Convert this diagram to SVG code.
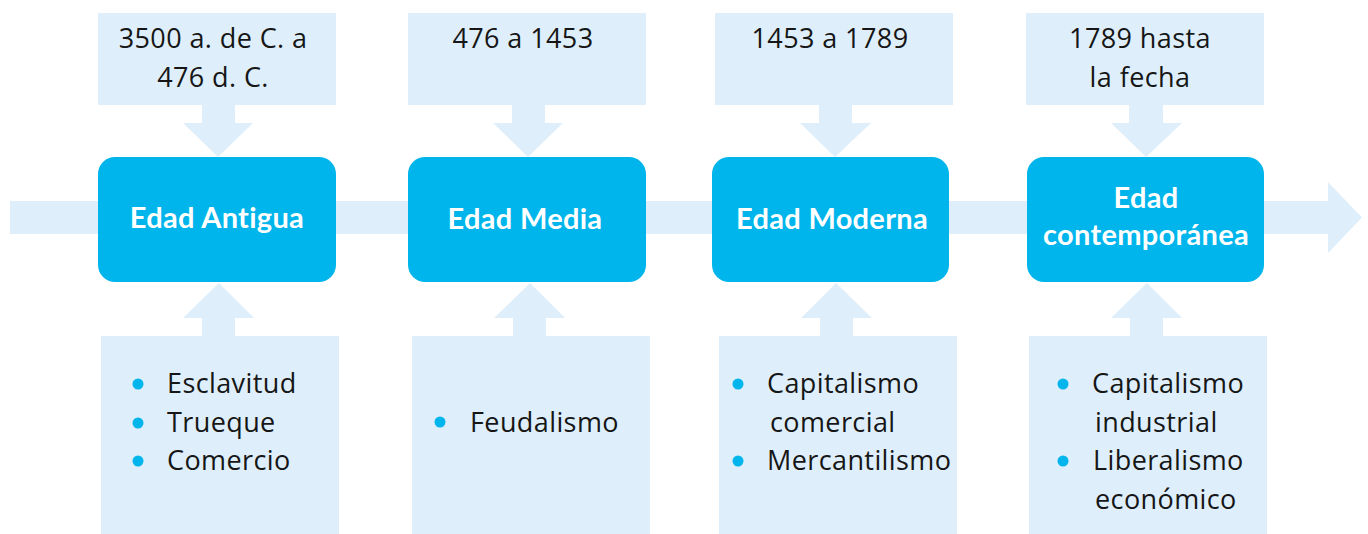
<svg xmlns="http://www.w3.org/2000/svg" width="1368" height="534" viewBox="0 0 1368 534">
<style>
.lb{fill:#DEEFFB}
.nd{fill:#00B5EC}
.dot{fill:#00B5EC}
.t{font-family:"Open Sans","Noto Sans",sans-serif;font-size:27px;letter-spacing:0.4px;fill:#161616}
.tm{text-anchor:middle}
.h{font-family:Lato,"Open Sans",sans-serif;font-weight:bold;font-size:29px;letter-spacing:0.3px;fill:#ffffff;text-anchor:middle}
</style>
<rect width="1368" height="534" fill="#ffffff"/>
<g id="connectors">
<polygon class="lb" points="10,201 1328,201 1328,182 1362,217.5 1328,253 1328,234 10,234"/>
<polygon class="lb" points="202,105 235,105 235,123 253,123 218,157 183,123 202,123"/>
<polygon class="lb" points="512,105 545,105 545,123 563,123 528,157 493,123 512,123"/>
<polygon class="lb" points="819,105 852,105 852,123 871,123 835,157 800,123 819,123"/>
<polygon class="lb" points="1129,105 1163,105 1163,123 1182,123 1146,157 1111,123 1129,123"/>
<polygon class="lb" points="202,336 235,336 235,318 254,318 219,283 183,318 202,318"/>
<polygon class="lb" points="513,336 546,336 546,318 565,318 530,283 494,318 513,318"/>
<polygon class="lb" points="820,336 853,336 853,318 872,318 836,283 801,318 820,318"/>
<polygon class="lb" points="1130,336 1163,336 1163,318 1182,318 1147,283 1111,318 1130,318"/>
</g>
<g id="date-antigua">
<rect class="lb" x="98" y="13" width="238" height="92"/>
<text class="t tm" x="213" y="48">3500 a. de C. a</text>
<text class="t tm" x="213" y="87">476 d. C.</text>
</g>
<g id="date-media">
<rect class="lb" x="408" y="13" width="238" height="92"/>
<text class="t tm" x="523" y="48">476 a 1453</text>
</g>
<g id="date-moderna">
<rect class="lb" x="715" y="13" width="238" height="92"/>
<text class="t tm" x="830" y="48">1453 a 1789</text>
</g>
<g id="date-contemporanea">
<rect class="lb" x="1026" y="13" width="238" height="92"/>
<text class="t tm" x="1140" y="48">1789 hasta</text>
<text class="t tm" x="1140" y="87">la fecha</text>
</g>
<g id="node-antigua">
<rect class="nd" x="98" y="157" width="238" height="125" rx="17"/>
<text class="h" x="217" y="228">Edad Antigua</text>
</g>
<g id="node-media">
<rect class="nd" x="408" y="157" width="238" height="125" rx="17"/>
<text class="h" x="525" y="229">Edad Media</text>
</g>
<g id="node-moderna">
<rect class="nd" x="712" y="157" width="237" height="125" rx="17"/>
<text class="h" x="832" y="229">Edad Moderna</text>
</g>
<g id="node-contemporanea">
<rect class="nd" x="1027" y="157" width="237" height="125" rx="17"/>
<text class="h" x="1146" y="208">Edad</text>
<text class="h" x="1146" y="245">contemporánea</text>
</g>
<g id="list-antigua">
<rect class="lb" x="101" y="336" width="238" height="198"/>
<circle class="dot" cx="138" cy="384" r="5.5"/>
<circle class="dot" cx="138" cy="423" r="5.5"/>
<circle class="dot" cx="138" cy="461" r="5.5"/>
<text class="t" x="167" y="393">Esclavitud</text>
<text class="t" x="167" y="432">Trueque</text>
<text class="t" x="167" y="470">Comercio</text>
</g>
<g id="list-media">
<rect class="lb" x="412" y="336" width="238" height="198"/>
<circle class="dot" cx="440" cy="422" r="5.5"/>
<text class="t" x="470" y="432">Feudalismo</text>
</g>
<g id="list-moderna">
<rect class="lb" x="719" y="336" width="238" height="198"/>
<circle class="dot" cx="738" cy="384" r="5.5"/>
<circle class="dot" cx="738" cy="461" r="5.5"/>
<text class="t" x="767" y="393">Capitalismo</text>
<text class="t" x="770" y="432">comercial</text>
<text class="t" x="767" y="470">Mercantilismo</text>
</g>
<g id="list-contemporanea">
<rect class="lb" x="1029" y="336" width="238" height="198"/>
<circle class="dot" cx="1063" cy="384" r="5.5"/>
<circle class="dot" cx="1063" cy="461" r="5.5"/>
<text class="t" x="1092" y="393">Capitalismo</text>
<text class="t" x="1095" y="432">industrial</text>
<text class="t" x="1093" y="470">Liberalismo</text>
<text class="t" x="1095" y="509">económico</text>
</g>
</svg>
